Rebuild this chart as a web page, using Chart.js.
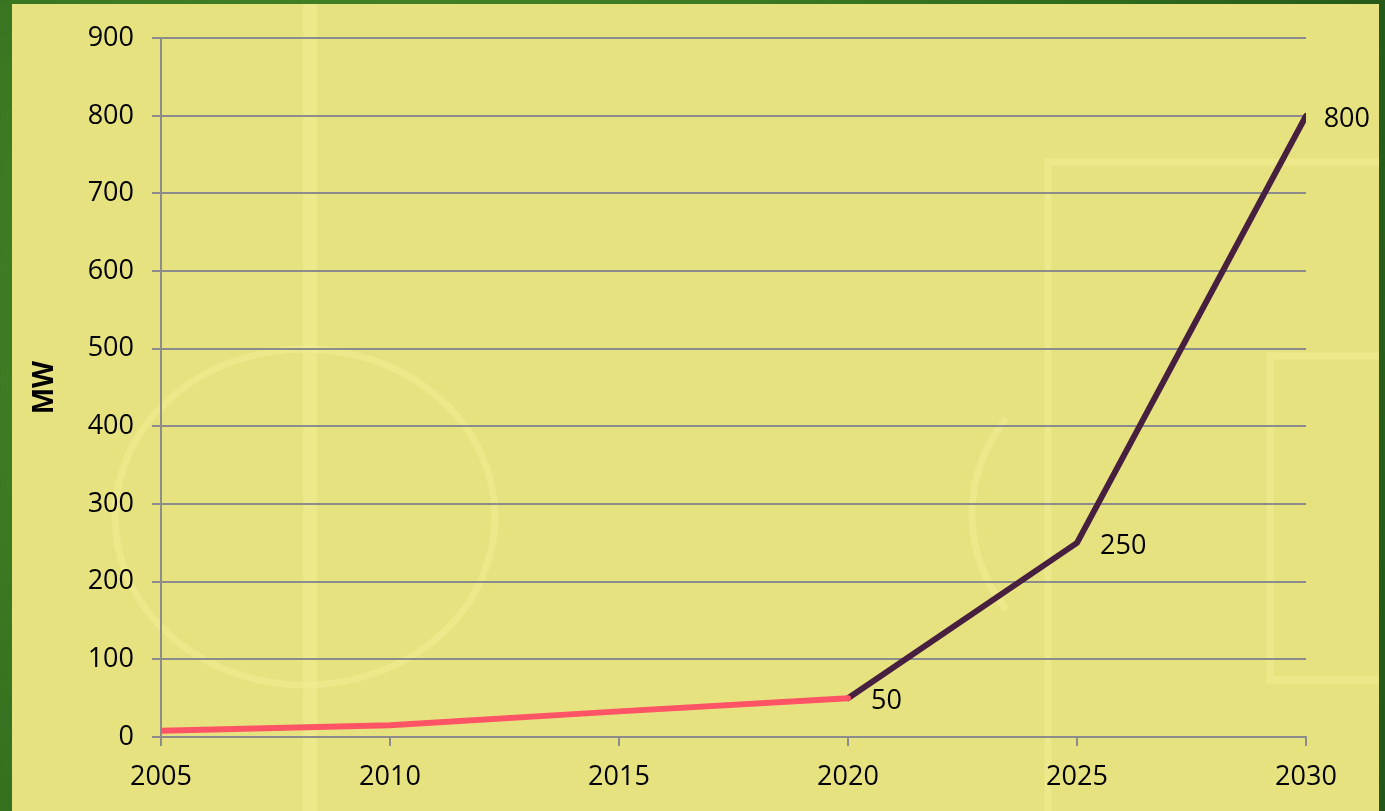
<!DOCTYPE html>
<html>
<head>
<meta charset="utf-8">
<script src="https://cdn.jsdelivr.net/npm/chart.js@4"></script>
<style>
  html, body { margin: 0; padding: 0; }
  body {
    width: 1385px; height: 811px; overflow: hidden;
    background: radial-gradient(circle at 30% 40%, #4f8f2c, #2f6a1c 70%, #24561a);
  }
  #wrap { position: absolute; left: 12px; top: 4px; width: 1367px; height: 807px; }
</style>
</head>
<body>
<div id="wrap"><canvas id="chart"></canvas></div>
<script>
const years = [2005, 2010, 2015, 2020, 2025, 2030];
const historic = [8, 15, 33, 50, null, null];
const projected = [null, null, null, 50, 250, 800];
const yTicks = [0, 100, 200, 300, 400, 500, 600, 700, 800, 900];
const labelled = [null, null, null, "50", "250", "800"];

const FONT = "'Open Sans', 'Noto Sans', sans-serif";

function toPoints(values) {
  return years.map((yr, i) => ({ x: yr, y: values[i] })).filter(p => p.y !== null);
}

// yellow pitch panel with faint markings
const pitchBackground = {
  id: "pitchBackground",
  beforeDraw(chart) {
    const ctx = chart.ctx;
    const w = chart.width, h = chart.height;
    ctx.save();
    ctx.fillStyle = "#e7e280";
    ctx.fillRect(0, 0, w, h);
    ctx.strokeStyle = "rgba(245, 240, 150, 0.45)";
    ctx.lineWidth = 14;
    ctx.beginPath();
    ctx.moveTo(298, 0); ctx.lineTo(298, h);
    ctx.stroke();
    ctx.lineWidth = 7;
    ctx.beginPath();
    ctx.ellipse(293, 513, 190, 168, 0, 0, Math.PI * 2);
    ctx.stroke();
    ctx.beginPath();
    ctx.moveTo(w, 158); ctx.lineTo(1036, 158); ctx.lineTo(1036, h);
    ctx.stroke();
    ctx.beginPath();
    ctx.moveTo(w, 352); ctx.lineTo(1258, 352); ctx.lineTo(1258, 676); ctx.lineTo(w, 676);
    ctx.stroke();
    ctx.beginPath();
    ctx.arc(1110, 510, 150, Math.PI * 0.78, Math.PI * 1.22);
    ctx.stroke();
    ctx.restore();
  }
};

// value labels to the right of the projected points
const pointLabels = {
  id: "pointLabels",
  afterDatasetsDraw(chart) {
    const ctx = chart.ctx;
    const xs = chart.scales.x, ys = chart.scales.y;
    ctx.save();
    ctx.font = "27px " + FONT;
    ctx.fillStyle = "#000";
    ctx.textAlign = "left";
    ctx.textBaseline = "middle";
    years.forEach((yr, i) => {
      if (!labelled[i]) return;
      const tw = ctx.measureText(labelled[i]).width;
      const x = Math.min(xs.getPixelForValue(yr) + 23, chart.width - 9 - tw);
      ctx.fillText(labelled[i], x, ys.getPixelForValue(projected[i]) + 3);
    });
    ctx.restore();
  }
};

new Chart(document.getElementById("chart"), {
  type: "line",
  data: {
    datasets: [
      {
        label: "Historic",
        data: toPoints(historic),
        borderColor: "#ff5465",
        borderWidth: 6,
        pointRadius: 0,
        tension: 0,
        borderCapStyle: "round",
        borderJoinStyle: "round"
      },
      {
        label: "Projected",
        data: toPoints(projected),
        borderColor: "#47203f",
        borderWidth: 6,
        pointRadius: 0,
        tension: 0,
        borderCapStyle: "round",
        borderJoinStyle: "round"
      }
    ]
  },
  options: {
    responsive: true,
    maintainAspectRatio: false,
    animation: false,
    layout: { padding: { top: 30, right: 73, bottom: 0, left: 0 } },
    plugins: {
      legend: { display: false },
      tooltip: { enabled: false }
    },
    scales: {
      x: {
        type: "linear",
        min: 2005,
        max: 2030,
        afterBuildTicks: scale => { scale.ticks = years.map(v => ({ value: v })); },
        afterFit: scale => { scale.height = 74; },
        border: { display: true, color: "#8c8c8c", width: 2 },
        grid: { drawOnChartArea: false, drawTicks: true, tickLength: 9, color: "#8c8c8c", lineWidth: 2 },
        ticks: {
          color: "#000",
          font: { family: FONT, size: 27 },
          padding: 15,
          maxRotation: 0,
          callback: v => String(v)
        }
      },
      y: {
        min: 0,
        max: 900,
        afterBuildTicks: scale => { scale.ticks = yTicks.map(v => ({ value: v })); },
        afterFit: scale => { scale.width = 149; },
        border: { display: true, color: "#8c8c8c", width: 2 },
        grid: { color: "#8c8c8c", lineWidth: 2, tickLength: 9 },
        ticks: {
          color: "#000",
          font: { family: FONT, size: 27 },
          padding: 18
        },
        title: {
          display: true,
          text: "MW",
          color: "#000",
          font: { family: FONT, size: 28, weight: "bold" },
          padding: { top: 16, bottom: 0 }
        }
      }
    }
  },
  plugins: [pitchBackground, pointLabels]
});
</script>
</body>
</html>
